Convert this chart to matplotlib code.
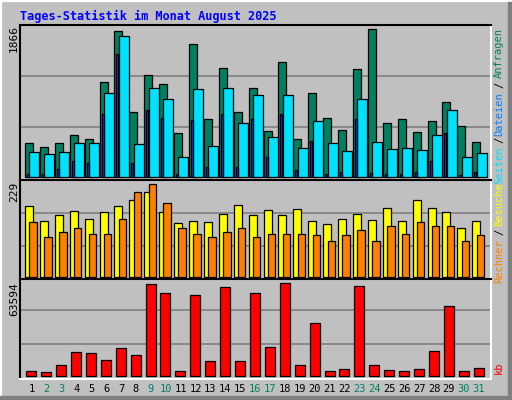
import matplotlib
matplotlib.use("Agg")
import matplotlib.pyplot as plt
from matplotlib.patches import Rectangle

days = list(range(1, 32))
weekend = [2, 3, 9, 10, 16, 17, 23, 24, 30, 31]

hits = [422, 371, 422, 523, 473, 1194, 1840, 814, 1283, 1169, 549, 1680, 726, 1372, 814, 1118,
        574, 1447, 473, 1055, 738, 587, 1359, 1866, 675, 726, 561, 700, 941, 637, 435]
files = [308, 283, 308, 422, 422, 1055, 1777, 409, 1118, 979, 245, 1106, 384, 1118, 675, 1030,
         498, 1030, 359, 700, 422, 321, 979, 435, 346, 359, 333, 523, 840, 245, 295]
pages = [34, 34, 93, 194, 169, 789, 1549, 169, 840, 738, 34, 713, 118, 789, 118, 726,
         245, 789, 80, 447, 34, 55, 726, 42, 30, 30, 55, 194, 549, 17, 55]
visits = [174, 137, 152, 162, 142, 160, 174, 189, 209, 160, 132, 137, 135, 155, 177, 152,
          165, 152, 167, 137, 130, 142, 155, 140, 169, 137, 189, 169, 160, 120, 137]
sites = [135, 98, 110, 120, 107, 107, 142, 209, 229, 182, 120, 105, 98, 110, 120, 98,
         105, 105, 105, 103, 88, 103, 115, 88, 125, 105, 135, 125, 125, 88, 103]
kbytes = [3017, 2321, 7195, 16247, 15551, 10677, 19032, 14158, 62898, 56632, 3017, 55240, 9980,
          60810, 9980, 56632, 19729, 63594, 7195, 36440, 3017, 4410, 61506, 7195, 3714, 3017,
          4410, 16943, 48277, 3017, 5106]

W, H = 512, 400
BG = "#C0C0C0"
fig = plt.figure(figsize=(W / 100, H / 100), dpi=100, facecolor=BG)

# outer bevel
fig.patches.append(Rectangle((0, 0), 1, 1, transform=fig.transFigure, fill=False,
                             edgecolor="white", lw=3))
fig.patches.append(Rectangle((0, 0), W - 4, 4, transform=None, color="#808080"))
fig.patches.append(Rectangle((W - 4, 0), 4, H - 2, transform=None, color="#808080"))

step = 14.91
xs = [step * (d - 1) for d in days]


def panel(top, bottom, ylim, grid):
    ax = fig.add_axes([20 / W, 1 - bottom / H, 471 / W, (bottom - top) / H])
    ax.set_facecolor(BG)
    ax.set_xlim(0, 471)
    ax.set_ylim(*ylim)
    ax.set_xticks([])
    ax.set_yticks([])
    for g in grid:
        ax.axhline(g, color="#808080", lw=1.2, zorder=0)
    ax.spines["top"].set_color("black")
    ax.spines["left"].set_color("black")
    ax.spines["bottom"].set_color("white")
    ax.spines["right"].set_color("white")
    for s in ax.spines.values():
        s.set_linewidth(1.5)
    return ax


def bars(ax, off, width, vals, color):
    ax.bar([x + off for x in xs], vals, width=width, align="edge", color=color,
           edgecolor="black", linewidth=0.9)


# Anfragen / Dateien / Seiten
ax1 = panel(25, 180, (-42, 1920), [629, 1275])
bars(ax1, 5, 8, hits, "#008060")
bars(ax1, 9.3, 10, files, "#00E0FF")
bars(ax1, 7, 2, pages, "#0040FF")

# Besuche / Rechner
ax2 = panel(180, 279, (-5.7, 239.6), [75.5, 157])
bars(ax2, 5, 8, visits, "#FFFF00")
bars(ax2, 9.3, 7.4, sites, "#FF8000")

# kb
ax3 = panel(279, 379, (-2296, 66587), [21600, 45200])
bars(ax3, 6.3, 10, kbytes, "#FF0000")

mono = "DejaVu Sans Mono"
fig.text(20 / W, 1 - 16 / H, "Tages-Statistik im Monat August 2025", color="#0000FF",
         fontsize=8.6, fontweight="bold", family=mono, va="center")

for txt, y in [("1866", 25), ("229", 182), ("63594", 282)]:
    fig.text(14 / W, 1 - y / H, txt, rotation=90, fontsize=8, family=mono,
             ha="center", va="top")

# right side legend labels
labels = [("Anfragen", "#008060", 28), ("/", "black", 82), ("Dateien", "#0080FF", 92),
          ("/", "black", 137), ("Seiten", "#00E0FF", 146), ("Besuche", "#FFFF00", 182),
          ("/", "black", 229), ("Rechner", "#FF8000", 239), ("kb", "#FF0000", 362)]
for txt, col, y in labels:
    fig.text(499 / W, 1 - y / H, txt, rotation=90, color=col, fontsize=7.5, family=mono,
             ha="center", va="top")

for d, x in zip(days, xs):
    col = "#008060" if d in weekend else "black"
    fig.text((20 + x + 11.5) / W, 1 - 389 / H, str(d), color=col, fontsize=7.5,
             family=mono, ha="center", va="center")

fig.savefig("out.png", dpi=100, facecolor=BG)
